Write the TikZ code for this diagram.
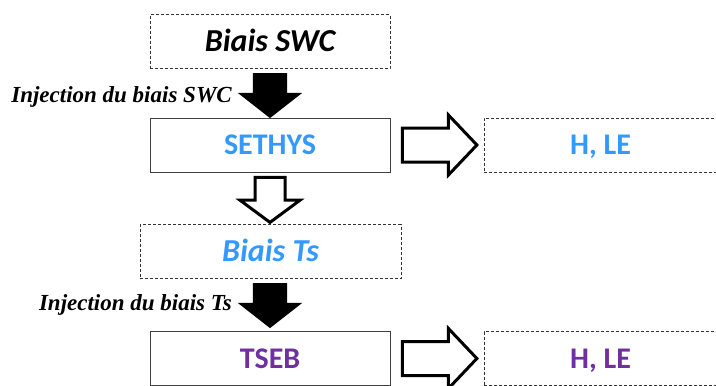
\documentclass[tikz,border=0pt]{standalone}
\usepackage{fontspec}
\setmainfont{Carlito}
\newfontfamily\labelfont{Liberation Serif}
\usetikzlibrary{calc,shapes.arrows}
\definecolor{sethysblue}{HTML}{3399FF}
\definecolor{tsebpurple}{HTML}{7030A0}
\newcommand{\boxfont}{\bfseries\fontsize{30}{32}\selectfont}
\newcommand{\italfont}{\itshape\fontsize{32}{34}\selectfont}

\begin{document}
\begin{tikzpicture}[x=1pt,y=-1pt,
	box/.style={draw=black!75,line width=0.8pt,minimum width=240pt,minimum height=54pt,
		inner sep=0pt,text height=19pt,text depth=0pt,font=\boxfont},
	dashbox/.style={box,draw=black!80,dash pattern=on 3pt off 2pt},
	blackarrow/.style={single arrow,fill=black,rotate=-90,anchor=tail,inner xsep=0pt,inner ysep=17pt,
		minimum height=45pt,minimum width=64pt,single arrow head extend=15pt,single arrow tip angle=104},
	hollowdown/.style={single arrow,draw=black,fill=white,line width=3pt,rotate=-90,anchor=tail,inner xsep=0pt,inner ysep=13.5pt,
		minimum height=45pt,minimum width=57pt,single arrow head extend=15pt,single arrow tip angle=107},
	hollowright/.style={single arrow,draw=black,fill=white,line width=3pt,anchor=tail,inner xsep=0pt,inner ysep=15.5pt,
		minimum height=74.5pt,minimum width=57pt,single arrow head extend=13pt,single arrow tip angle=93},
	injlabel/.style={font=\labelfont\bfseries\itshape\fontsize{23}{26}\selectfont,inner sep=0pt,anchor=base east}]

\useasboundingbox (0,0) rectangle (716,386);

\node[dashbox] (swc) at (270,41.5) {\italfont Biais SWC};
\node[box,text=sethysblue] (sethys) at (270,145) {SETHYS};
\node[dashbox,minimum width=233pt,text=sethysblue] (hle1) at (600.5,145) {H, LE};
\node[dashbox,minimum width=261pt,text=sethysblue] (ts) at (270.5,251.5) {\italfont Biais Ts};
\node[box,text=tsebpurple] (tseb) at (270,358.5) {TSEB};
\node[dashbox,minimum width=233pt,text=tsebpurple] (hle2) at (600.5,358.5) {H, LE};

\node[blackarrow] (d1) at ($(swc.south)+(0,4)$) {};
\node[hollowdown] (d2) at ($(sethys.south)+(0,3.5)$) {};
\node[blackarrow] (d3) at ($(ts.south)+(-0.5,4)$) {};
\node[hollowright] (r1) at ($(sethys.east)+(10.5,0)$) {};
\node[hollowright] (r2) at ($(tseb.east)+(10.5,0)$) {};

\node[injlabel] (l1) at (232,102) {Injection du biais SWC};
\node[injlabel] (l2) at (232,310) {Injection du biais Ts};

\end{tikzpicture}
\end{document}
